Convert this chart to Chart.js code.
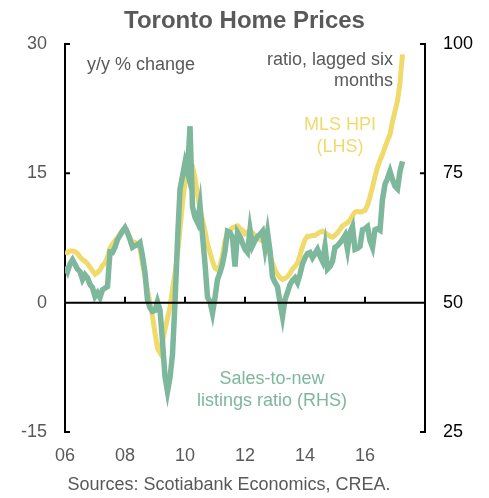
<!DOCTYPE html>
<html>
<head>
<meta charset="utf-8">
<script src="https://cdn.jsdelivr.net/npm/chart.js@4.4.1/dist/chart.umd.min.js"></script>
<style>
  html, body { margin: 0; padding: 0; background: #fff; }
  #wrap { width: 489px; height: 498px; }
</style>
</head>
<body>
<div id="wrap"><canvas id="myChart"></canvas></div>
<script>
// monthly, Jan 2006 .. Apr 2017
const startYear = 2006;
const mlsHpi = [
  5.9, 5.8, 6.0, 6.0, 5.9, 5.7, 5.3, 5.0, 4.8, 4.5, 4.1, 3.7,
  3.3, 3.5, 3.8, 4.3, 4.6, 5.3, 6.3, 6.8, 7.2, 7.5, 8.0, 8.4,
  8.7, 8.2, 7.5, 7.0, 7.0, 6.7, 6.3, 4.5, 3.0, 1.4, 0.0, -1.6,
  -3.5, -5.3, -5.8, -4.5, -3.1, -1.8, -0.5, 1.5, 3.5, 5.5, 8.5, 11.5,
  14.0, 15.0, 15.8, 15.8, 14.5, 12.5, 10.8, 9.6, 8.3, 6.8, 5.8, 4.8,
  4.0, 3.8, 4.3, 5.5, 7.2, 8.0, 8.4, 8.7, 8.8, 8.9, 8.6, 8.4,
  8.0, 8.2, 8.3, 8.1, 7.8, 7.6, 7.3, 7.2, 7.0, 6.4, 5.5, 4.6,
  3.8, 3.3, 2.9, 2.7, 2.8, 3.0, 3.4, 3.9, 4.2, 4.6, 5.5, 6.5,
  7.3, 7.7, 7.7, 7.8, 7.8, 8.0, 8.2, 8.3, 8.1, 7.9, 7.7, 7.6,
  7.8, 8.1, 8.5, 8.9, 9.1, 9.3, 9.6, 10.1, 10.5, 10.6, 10.5, 10.6,
  10.7, 11.3, 12.3, 13.4, 14.6, 15.7, 16.5, 17.2, 18.0, 18.8, 19.5, 21.0,
  22.2, 23.4, 25.5, 28.8
];
const salesToNew = [
  57.0, 56.0, 57.5, 58.3, 57.4, 56.5, 56.0, 54.5, 55.4, 54.8, 53.5, 52.9,
  51.2, 51.9, 51.0, 52.5, 52.8, 53.1, 59.8, 59.7, 60.7, 62.2, 63.0, 63.8,
  64.5, 63.5, 62.2, 60.7, 61.0, 61.2, 61.6, 59.0, 55.8, 50.5, 49.0, 48.3,
  48.5, 50.2, 48.6, 42.5, 35.7, 32.8, 35.5, 40.0, 50.0, 62.0, 71.9, 74.5,
  77.1, 75.2, 84.1, 68.5, 66.5, 65.5, 68.8, 63.0, 57.5, 51.0, 50.2, 48.0,
  51.0, 54.5, 55.8, 57.5, 60.0, 63.8, 63.6, 62.5, 57.0, 63.6, 62.8, 61.5,
  60.3, 59.7, 64.1, 61.0, 62.0, 62.8, 63.2, 63.8, 60.5, 63.6, 60.0, 55.0,
  53.9, 53.1, 50.0, 47.3, 50.6, 52.0, 53.5, 54.3, 54.8, 53.9, 55.5, 57.5,
  58.7, 59.5, 59.7, 58.7, 59.5, 60.3, 59.0, 58.0, 60.9, 56.5, 57.0, 58.0,
  60.7, 61.0, 61.6, 62.2, 63.0, 60.3, 63.6, 64.7, 60.3, 60.5, 60.9, 64.1,
  64.3, 64.7, 62.0, 60.7, 64.1, 64.3, 64.0, 70.0, 72.9, 74.0, 75.4, 73.8,
  72.5, 72.0, 75.4, 77.3
];
const leftTicks = [-15, 0, 15, 30];
const rightTicks = [25, 50, 75, 100];
const yearTicks = [2006, 2008, 2010, 2012, 2014, 2016];

const yellow = '#F1DA6C';
const green = '#7DB79C';
const grey = '#595959';
const fam = '"Liberation Sans", Arial, sans-serif';

const toPts = arr => arr.map((v, i) => ({ x: startYear + i / 12, y: v }));

const decor = {
  id: 'decor',
  afterDatasetsDraw(chart) {
    const c = chart.ctx;
    const a = chart.chartArea;
    const x = chart.scales.x, yl = chart.scales.y, yr = chart.scales.y1;
    c.save();
    c.strokeStyle = '#000';
    c.lineWidth = 2;
    // zero line with upward ticks
    const y0 = yl.getPixelForValue(0);
    c.beginPath();
    c.moveTo(a.left, y0); c.lineTo(a.right, y0);
    yearTicks.slice(1).forEach(t => {
      const px = Math.round(x.getPixelForValue(t));
      c.moveTo(px, y0); c.lineTo(px, y0 - 6);
    });
    // inward ticks on both axes
    leftTicks.forEach(t => {
      const py = yl.getPixelForValue(t);
      c.moveTo(a.left, py); c.lineTo(a.left + 5, py);
    });
    rightTicks.forEach(t => {
      const py = yr.getPixelForValue(t);
      c.moveTo(a.right, py); c.lineTo(a.right - 5, py);
    });
    c.stroke();

    // annotations
    c.font = '18px ' + fam;
    c.textBaseline = 'middle';
    c.fillStyle = grey;
    c.textAlign = 'left';
    c.fillText('y/y % change', 87, 65);
    c.textAlign = 'right';
    c.fillText('ratio, lagged six', 393, 60);
    c.fillText('months', 393, 81);
    c.textAlign = 'center';
    c.fillStyle = yellow;
    c.fillText('MLS HPI', 340, 125);
    c.fillText('(LHS)', 340, 147);
    c.fillStyle = green;
    c.fillText('Sales-to-new', 272, 379);
    c.fillText('listings ratio (RHS)', 272, 401);
    c.fillStyle = grey;
    c.fillText('Sources: Scotiabank Economics, CREA.', 229, 485);
    c.restore();
  }
};

new Chart(document.getElementById('myChart'), {
  type: 'line',
  data: {
    datasets: [
      {
        label: 'Sales-to-new listings ratio (RHS)',
        data: toPts(salesToNew),
        yAxisID: 'y1',
        borderColor: green,
        borderWidth: 5.5,
        pointRadius: 0,
        order: 0
      },
      {
        label: 'MLS HPI (LHS)',
        data: toPts(mlsHpi),
        yAxisID: 'y',
        borderColor: yellow,
        borderWidth: 5,
        pointRadius: 0,
        order: 1
      }
    ]
  },
  options: {
    responsive: true,
    maintainAspectRatio: false,
    animation: false,
    layout: { padding: 0 },
    scales: {
      x: {
        type: 'linear',
        min: 2006,
        max: 2018,
        afterFit: s => { s.height = 66; },
        afterBuildTicks: s => { s.ticks = yearTicks.map(v => ({ value: v })); },
        grid: { display: false },
        border: { display: false },
        ticks: {
          padding: 5,
          color: grey,
          font: { family: fam, size: 18 },
          callback: v => String(v).slice(2)
        }
      },
      y: {
        position: 'left',
        min: -15,
        max: 30,
        afterFit: s => { s.width = 65; },
        afterBuildTicks: s => { s.ticks = leftTicks.map(v => ({ value: v })); },
        grid: { drawOnChartArea: false, drawTicks: false },
        border: { color: '#000', width: 2 },
        ticks: { padding: 18, color: grey, font: { family: fam, size: 18 } }
      },
      y1: {
        position: 'right',
        min: 25,
        max: 100,
        afterFit: s => { s.width = 64; },
        afterBuildTicks: s => { s.ticks = rightTicks.map(v => ({ value: v })); },
        grid: { drawOnChartArea: false, drawTicks: false },
        border: { color: '#000', width: 2 },
        ticks: { padding: 18, color: '#000', font: { family: fam, size: 18 } }
      }
    },
    plugins: {
      legend: { display: false },
      tooltip: { enabled: false },
      title: {
        display: true,
        text: 'Toronto Home Prices',
        color: grey,
        font: { family: fam, size: 24, weight: 'bold' },
        padding: { top: 7, bottom: 8.2 }
      }
    }
  },
  plugins: [decor]
});
</script>
</body>
</html>
